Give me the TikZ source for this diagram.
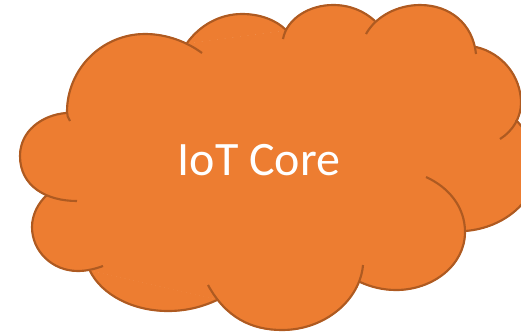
\documentclass[tikz,border=0pt]{standalone}
\usepackage{fontspec}
\setmainfont{Carlito}
\definecolor{cloudfill}{HTML}{ED7D31}
\definecolor{cloudline}{HTML}{AE5A21}
\tikzset{
  lobefill/.style={fill=cloudfill,draw=cloudfill,line width=1pt},
  lobeline/.style={draw=cloudline,line width=1.6pt,line cap=butt},
  cloudlabel/.style={text=white,font=\fontsize{36}{40}\selectfont,inner sep=0pt}
}
\newcommand\alllobes[1]{%
#1{(70,121) .. controls (68,118) and (67,115) .. (67,112) .. controls (67,69) and (102,34) .. (145,34) .. controls (167,34) and (187,42) .. (202,53)}%
#1{(187,43) .. controls (200,25) and (220,14) .. (242,14) .. controls (260,14) and (276,20) .. (286,30)}%
#1{(283,39) .. controls (287,18) and (310,5) .. (333,5) .. controls (350,5) and (364,11) .. (375,21)}%
#1{(366,34) .. controls (376,16) and (398,5) .. (420,5) .. controls (450,5) and (473,24) .. (476,54)}%
#1{(476,47) .. controls (502,53) and (521,76) .. (521,103) .. controls (521,117) and (513,131) .. (500,139)}%
#1{(516,120) .. controls (530,135) and (537,150) .. (537,166) .. controls (537,200) and (505,228) .. (465,231)}%
#1{(426,177) .. controls (450,188) and (465,208) .. (465,232) .. controls (465,265) and (433,290) .. (396,290) .. controls (383,290) and (371,287) .. (360,282)}%
#1{(363,265) .. controls (360,300) and (325,330) .. (282,330) .. controls (252,330) and (226,318) .. (208,285)}%
#1{(217,300) .. controls (202,307) and (186,311) .. (168,311) .. controls (133,311) and (102,295) .. (90,271)}%
#1{(103,266) .. controls (95,269) and (86,271) .. (78,271) .. controls (52,271) and (32,251) .. (32,227) .. controls (32,215) and (38,203) .. (47,195)}%
#1{(77,201) .. controls (46,201) and (20,186) .. (20,156) .. controls (20,131) and (42,115) .. (66,113)}%
}
\newcommand\dofill[1]{\path[lobefill] #1 -- cycle;}
\newcommand\dostroke[1]{\draw[lobeline] #1;}
\begin{document}
\begin{tikzpicture}[x=0.75pt,y=-0.75pt]
\useasboundingbox (0,0) rectangle (521,333);
\clip (0,0) rectangle (521,333);
\alllobes{\dofill}
\path[lobefill] (67,113) -- (187,44) -- (286,31) -- (375,22) -- (476,48) -- (515,120) -- (465,230) -- (360,281) -- (217,299) -- (90,270) -- (48,195) -- cycle;
\alllobes{\dostroke}
\node[cloudlabel] (label) at (259,160) {IoT Core};
\end{tikzpicture}
\end{document}
